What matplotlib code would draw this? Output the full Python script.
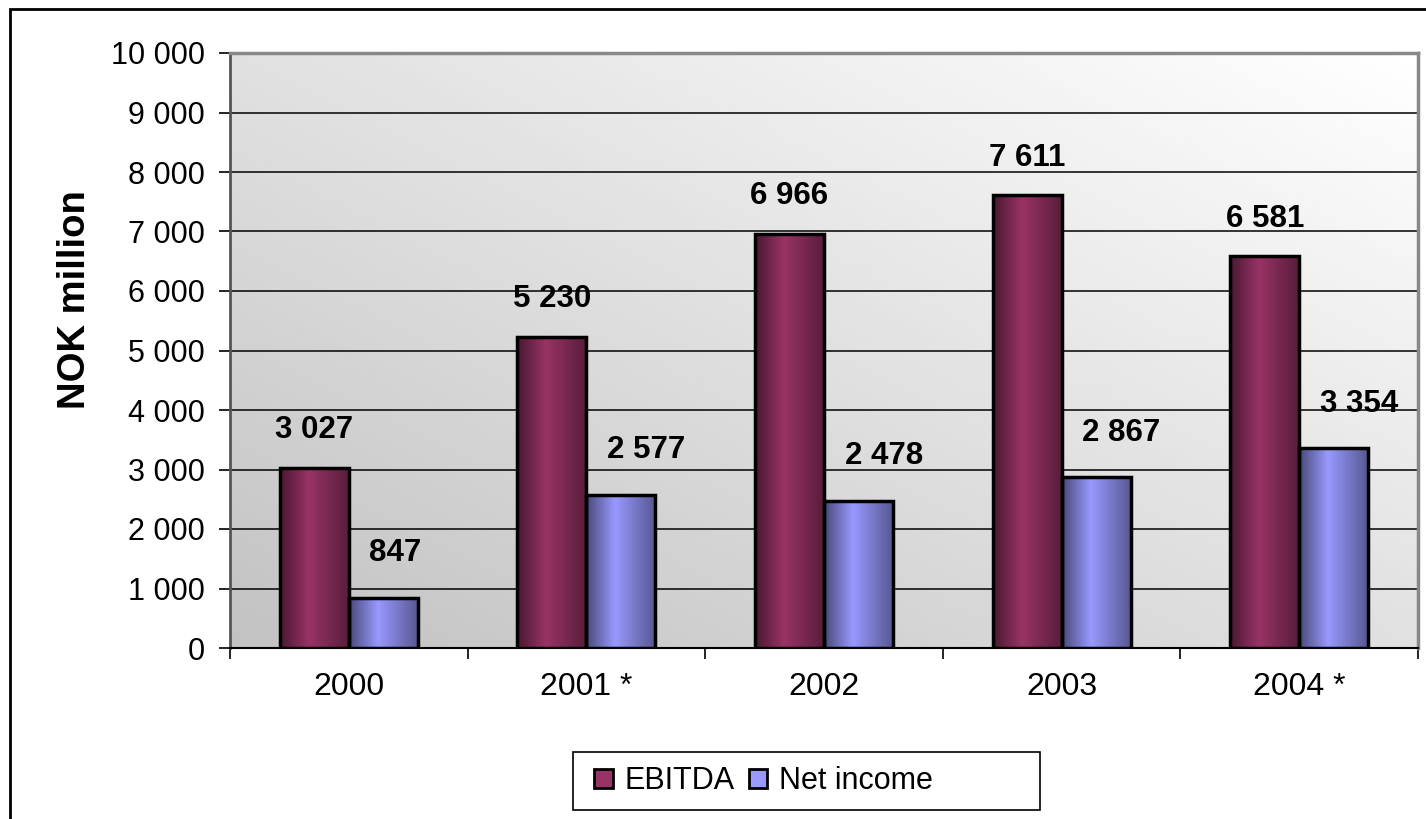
import matplotlib.pyplot as plt
import numpy as np
from matplotlib.colors import to_rgb
from matplotlib.patches import Rectangle
from matplotlib.ticker import FuncFormatter, FixedLocator

plt.rcParams['font.family'] = ['Liberation Sans', 'DejaVu Sans']

years = ["2000", "2001 *", "2002", "2003", "2004 *"]
ebitda = [3027, 5230, 6966, 7611, 6581]
net_income = [847, 2577, 2478, 2867, 3354]
series_names = ["EBITDA", "Net income"]
series_colors = ["#993366", "#9999ff"]


def fmt(v, pos=None):
    return f"{int(v):,}".replace(",", " ")


def shade(color, n=64):
    # horizontal cylinder-like shading: dark edges, bright near the middle
    base = np.array(to_rgb(color))
    t = np.linspace(0, 1, n)
    f = np.interp(t, [0, 0.42, 1], [0.48, 1.0, 0.58])
    img = np.clip(base[None, :] * f[:, None], 0, 1)
    return img[None, :, :]


fig = plt.figure(figsize=(14.26, 8.19), dpi=100)
ax = fig.add_axes([230 / 1426, 171 / 819, 1188 / 1426, 595 / 819])

# background gradient of the plot area
gx, gy = np.meshgrid(np.linspace(0, 1, 200), np.linspace(0, 1, 200))
g = 0.76 + 0.24 * (gx + gy) / 2
ax.imshow(g, cmap="gray", vmin=0, vmax=1, extent=[0, 1, 0, 1],
          transform=ax.transAxes, origin="lower", aspect="auto", zorder=0)

x = np.arange(len(years))
w = 0.29
# label placement per series (Excel put the net income labels a bit off-centre)
label_style = [dict(dx=0, dy=27, ha="center"), dict(dx=-10, dy=32, ha="left")]
for k, (vals, col) in enumerate(zip([ebitda, net_income], series_colors)):
    offs = (k - 0.5) * w
    bars = ax.bar(x + offs, vals, w, facecolor="none", edgecolor="black",
                  linewidth=2.5, zorder=4)
    grad = shade(col)
    for b in bars:
        bx, by = b.get_x(), b.get_y()
        ax.imshow(grad, extent=[bx, bx + b.get_width(), by, by + b.get_height()],
                  aspect="auto", zorder=3, interpolation="bilinear")
    st = label_style[k]
    for b, v in zip(bars, vals):
        ax.annotate(fmt(v), (b.get_x() + b.get_width() / 2, v),
                    xytext=(st["dx"], st["dy"]), textcoords="offset points",
                    ha=st["ha"], va="center", fontsize=22.5, fontweight="bold",
                    zorder=5)

ax.set_xlim(-0.5, len(years) - 0.5)
ax.set_ylim(0, 10000)
ax.set_yticks(np.arange(0, 10001, 1000))
ax.yaxis.set_major_formatter(FuncFormatter(fmt))
ax.yaxis.grid(True, color="black", linewidth=1.1, zorder=1)
ax.set_axisbelow(True)

ax.set_xticks(x)
ax.set_xticklabels(years)
ax.xaxis.set_minor_locator(FixedLocator(np.arange(-0.5, len(years), 1.0)))
ax.tick_params(axis="x", which="major", length=0, pad=17, labelsize=23)
ax.tick_params(axis="x", which="minor", length=8, width=1.2, direction="out")
ax.tick_params(axis="y", length=8, width=1.2, labelsize=22, pad=10)

for s in ["top", "right"]:
    ax.spines[s].set_color("#888888")
    ax.spines[s].set_linewidth(2.5)
ax.spines["left"].set_color("#555555")
ax.spines["left"].set_linewidth(2)
ax.spines["bottom"].set_linewidth(1.5)

fig.text(75 / 1426, 1 - 300 / 819, "NOK million", rotation=90, ha="center",
         va="center", fontsize=27.5, fontweight="bold")

handles = [Rectangle((0, 0), 1, 1, facecolor=c, edgecolor="black", linewidth=2)
           for c in series_colors]
leg = fig.legend(handles, series_names, loc="center left",
                 bbox_to_anchor=(579 / 1426, 1 - 781 / 819), ncol=2,
                 fontsize=22, frameon=False,
                 handlelength=0.6, handleheight=0.6, handletextpad=0.4,
                 columnspacing=0.45, borderpad=0.0)

# legend frame (wider than its entries, as in the source chart)
fig.patches.append(Rectangle((573 / 1426, 9 / 819), 467 / 1426, 58 / 819,
                             transform=fig.transFigure, fill=False,
                             edgecolor="black", linewidth=1.2))

# outer chart frame
fig.patches.append(Rectangle((10 / 1426, -0.01), 1.0, 1 - 9 / 819 + 0.01,
                             transform=fig.transFigure, fill=False,
                             edgecolor="black", linewidth=2))

fig.savefig("out.png", dpi=100)
